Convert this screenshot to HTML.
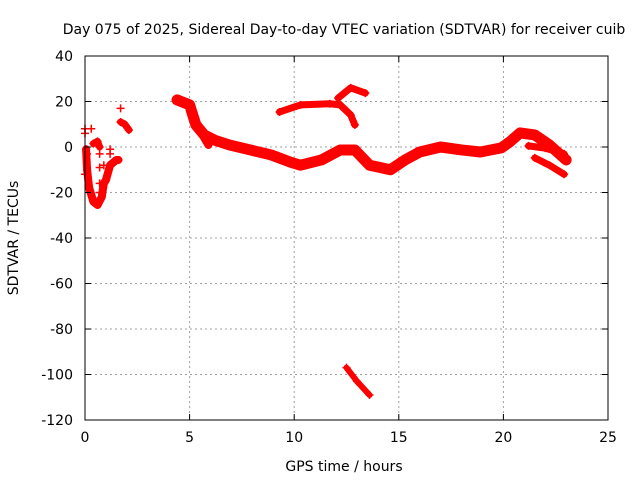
<!DOCTYPE html>
<html><head><meta charset="utf-8"><style>
body{margin:0;background:#fff}
svg{display:block;font-family:"DejaVu Sans","Liberation Sans",sans-serif}
</style></head><body>
<svg id="c" width="640" height="480" viewBox="0 0 640 480">
<rect width="640" height="480" fill="#fff"/>
<g id="grid"></g><g id="marks"></g><g id="axes"></g>
<text x="344" y="34" font-size="14" text-anchor="middle">Day 075 of 2025, Sidereal Day-to-day VTEC variation (SDTVAR) for receiver cuib</text>
<text x="344" y="471" font-size="14" text-anchor="middle">GPS time / hours</text>
<text transform="translate(18,238) rotate(-90)" font-size="14" text-anchor="middle">SDTVAR / TECUs</text>
</svg>
<script>
const xTicks=[0,5,10,15,20,25];
const yTicks=[40,20,0,-20,-40,-60,-80,-100,-120];
const trackMain=[[4.4,20.7],[5.0,18.5],[5.3,9.7],[5.7,5.3],[6.2,3],[6.9,0.9],[7.9,-1.3],[8.9,-3.5],[9.8,-6.6],[10.3,-8],[11.3,-5.7],[12.2,-1.3],[12.9,-1.3],[13.6,-8],[14.6,-10],[15.3,-5.7],[16.0,-2.2],[17.0,0],[18.0,-1.3],[18.9,-2.2],[19.9,-0.4],[20.3,2.2],[20.8,6.2],[21.5,5.3],[22.2,0.9],[23.0,-5.7]];
const trackMid=[[21.2,0.5],[22.0,-0.5],[22.9,-3]];
const trackLow=[[21.5,-4.8],[22.2,-8],[22.9,-12]];
const trackBranch=[[5.4,9.7],[5.7,4],[5.9,0.9]];
const trackArc=[[9.3,15.4],[10.3,18.5],[11.7,19],[12.2,18.5],[12.7,14.1],[12.9,9.7]];
const trackSmall=[[12.1,21.5],[12.7,26],[13.4,23.7]];
const trackDeep=[[12.5,-97],[13.0,-103],[13.6,-109]];
const trackEarly1=[[0.05,-1],[0.1,-10],[0.2,-18],[0.4,-24],[0.6,-25.5],[0.8,-22],[0.9,-16],[1.0,-14.5],[1.2,-8],[1.5,-5.7],[1.6,-5.7]];
const trackEarly2=[[0.4,1.5],[0.6,2.5],[0.7,0]];
const trackEarly3=[[1.7,11],[1.9,10],[2.1,7.5]];
const scatter=[[0,8],[0,6],[0.3,8],[0.1,-3],[0,-12],[0.7,-3],[0.7,-9],[0.7,-16],[0.7,-20],[0.9,-8],[1.2,-1],[1.2,-3],[1.7,17]];
const X0=85,X1=608,Y0=56,Y1=420;
const sx=t=>X0+(t-0)/(25-0)*(X1-X0);
const sy=v=>Y0+(40-v)/(40-(-120))*(Y1-Y0);
const NS="http://www.w3.org/2000/svg";
const mk=(tag,attrs,parent)=>{const e=document.createElementNS(NS,tag);for(const k in attrs)e.setAttribute(k,attrs[k]);parent.appendChild(e);return e;};
const grid=document.getElementById('grid'),axes=document.getElementById('axes'),marks=document.getElementById('marks');
xTicks.forEach(t=>{
 if(t>0&&t<25){const l=mk('line',{x1:sx(t),x2:sx(t),y1:Y0,y2:Y1,stroke:'#a0a0a0','stroke-dasharray':'2,3'},grid);
 
 }
 mk('line',{x1:sx(t),x2:sx(t),y1:Y1,y2:Y1-6,stroke:'#000'},axes);
 mk('line',{x1:sx(t),x2:sx(t),y1:Y0,y2:Y0+6,stroke:'#000'},axes);
 const tx=mk('text',{x:sx(t),y:Y1+22,'font-size':14,'text-anchor':'middle'},axes);tx.textContent=t;
 
 
});
yTicks.forEach(v=>{
 if(v<40&&v>-120){const l=mk('line',{x1:X0,x2:X1,y1:sy(v),y2:sy(v),stroke:'#a0a0a0','stroke-dasharray':'2,3'},grid);
 
 }
 mk('line',{x1:X0,x2:X0+6,y1:sy(v),y2:sy(v),stroke:'#000'},axes);
 mk('line',{x1:X1,x2:X1-6,y1:sy(v),y2:sy(v),stroke:'#000'},axes);
 const tx=mk('text',{x:X0-12,y:sy(v)+5,'font-size':14,'text-anchor':'end'},axes);tx.textContent=v;
 
 
});
const fr=mk('rect',{x:X0,y:Y0,width:X1-X0,height:Y1-Y0,fill:'none',stroke:'#000'},axes);


function track(pts,w,name){
 const p=mk('polyline',{points:pts.map(d=>sx(d[0])+','+sy(d[1])).join(' '),fill:'none',stroke:'#f00','stroke-width':w,'stroke-linejoin':'round','stroke-linecap':'round'},marks);
 
 
 pts.forEach(d=>plus(d));
}
function plus(d){
 const x=sx(d[0]),y=sy(d[1]);
 const g=mk('path',{d:`M${x-4},${y}H${x+4}M${x},${y-4}V${y+4}`,stroke:'#f00','stroke-width':1.5},marks);
 
 
}
track(trackMain,11,'main-track');
track(trackMid,7,'mid-branch-track');
track(trackLow,7,'low-branch-track');
track(trackBranch,8,'branch-track');
track(trackArc,7,'arc-track');
track(trackSmall,7,'small-arc-track');
track(trackDeep,6,'deep-track');
track(trackEarly1,8,'early-track');
track(trackEarly2,7,'early-spot-track');
track(trackEarly3,7,'early-upper-track');
scatter.forEach(plus);
</script>
</body></html>
